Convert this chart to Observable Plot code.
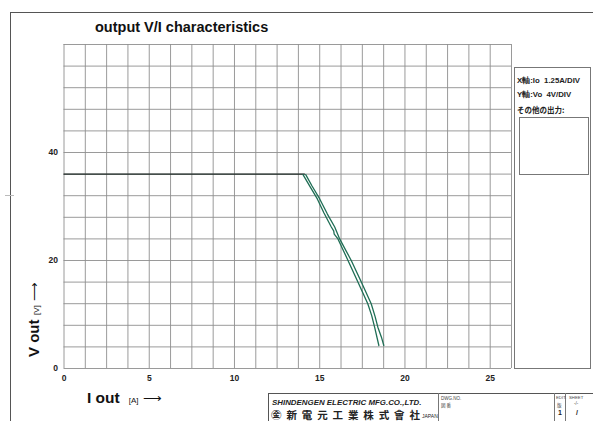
<!DOCTYPE html>
<html>
<head>
<meta charset="utf-8">
<script src="https://cdn.jsdelivr.net/npm/d3@7"></script>
<script src="https://cdn.jsdelivr.net/npm/@observablehq/plot@0.6"></script>
<style>
  html, body { margin: 0; padding: 0; background: #fff; }
  #wrap { position: relative; width: 593px; height: 421px; overflow: hidden; font-family: "Liberation Sans", Arial, sans-serif; }
  #wrap svg { position: absolute; left: 0; top: 0; }
  .abs { position: absolute; white-space: pre; }
  .box { position: absolute; box-sizing: border-box; }
  g[aria-label="x-axis tick label"] text, g[aria-label="y-axis tick label"] text { font-weight: bold; }
</style>
</head>
<body>
<div id="wrap"></div>
<script>
// ---- data ----
const xTicks = [0, 5, 10, 15, 20, 25];
const yTicks = [0, 20, 40];
const xGrid = d3.range(0, 26.26, 1.25);   // 1.25 A / DIV
const yGrid = d3.range(0, 60.1, 4);       // 4 V / DIV

const flatI = [0, 14.1];
const flatV = [36, 36];

const curveA_I = [14.02, 14.45, 14.86, 15.25, 15.68, 15.82, 15.85, 16.07, 16.66, 17.24, 17.82, 18.05, 18.22, 18.47];
const curveA_V = [35.9, 33.6, 31.4, 28.8, 26.2, 25.5, 24.9, 24.0, 20.0, 16.0, 12.0, 9.8, 7.65, 4.26];
const curveB_I = [14.18, 14.55, 15.0, 15.45, 15.88, 16.17, 16.85, 17.44, 18.02, 18.25, 18.41, 18.62, 18.76];
const curveB_V = [35.9, 33.8, 31.4, 28.6, 26.2, 24.0, 20.0, 16.0, 12.0, 9.6, 7.65, 5.8, 4.26];

const flat = flatI.map((d, i) => ({I: d, V: flatV[i]}));
const curves = [
  ...curveA_I.map((d, i) => ({I: d, V: curveA_V[i], s: "A"})),
  ...curveB_I.map((d, i) => ({I: d, V: curveB_V[i], s: "B"}))
];

const gridColor = "#8e8e8e";

const chart = Plot.plot({
  width: 593,
  height: 421,
  marginLeft: 63.5,
  marginRight: 82,
  marginTop: 44,
  marginBottom: 53,
  style: { fontFamily: "Liberation Sans, Arial, sans-serif", fontSize: "8.5px", background: "transparent", color: "#222" },
  x: { domain: [0, 26.25] },
  y: { domain: [0, 60] },
  marks: [
    Plot.gridX(xGrid, { stroke: gridColor, strokeOpacity: 1, strokeWidth: 0.9 }),
    Plot.gridY(yGrid, { stroke: gridColor, strokeOpacity: 1, strokeWidth: 0.9 }),
    Plot.axisX({ ticks: xTicks, tickSize: 0, tickPadding: 6, label: null, fontWeight: "bold" }),
    Plot.axisY({ ticks: yTicks, tickSize: 0, tickPadding: 6, label: null, fontWeight: "bold" }),
    Plot.line(flat, { x: "I", y: "V", stroke: "#1c2824", strokeWidth: 1.4 }),
    Plot.line(curves, { x: "I", y: "V", z: "s", stroke: "#1f6e55", strokeWidth: 1.3 })
  ]
});

const wrap = document.getElementById("wrap");
wrap.appendChild(chart);

function addText(txt, css) {
  const d = document.createElement("div");
  d.className = "abs";
  d.textContent = txt;
  Object.assign(d.style, css);
  wrap.appendChild(d);
  return d;
}
function addBox(css) {
  const d = document.createElement("div");
  d.className = "box";
  Object.assign(d.style, css);
  wrap.appendChild(d);
  return d;
}

// page frame
addBox({ left: "10px", top: "12px", width: "600px", height: "420px", borderLeft: "1.2px solid #555", borderTop: "1.2px solid #555" });
addBox({ left: "5px", top: "195px", width: "9px", height: "0px", borderTop: "1px solid #bbb" });

// title
addText("output V/I characteristics", { left: "95px", top: "19px", fontSize: "14.5px", fontWeight: "bold", color: "#111", lineHeight: "17px" });

// y label (rotated)
const yl = document.createElement("div");
yl.className = "abs";
yl.innerHTML = '<span style="font-size:15px;font-weight:bold">V out</span> <span style="font-size:8px">[V]</span> <span style="font-size:13px">⟶</span>';
Object.assign(yl.style, { left: "25px", top: "357px", lineHeight: "17px", transformOrigin: "0 0", transform: "rotate(-90deg)", color: "#111" });
wrap.appendChild(yl);

// x label
const xl = document.createElement("div");
xl.className = "abs";
xl.innerHTML = '<span style="font-size:15.5px;font-weight:bold">I out</span><span style="font-size:8px;margin-left:9px">[A]</span><span style="font-size:13px;margin-left:4px">⟶</span>';
Object.assign(xl.style, { left: "87px", top: "389px", lineHeight: "18px", color: "#111" });
wrap.appendChild(xl);

// right info box
addBox({ left: "514px", top: "67px", width: "77px", height: "302px", border: "1px solid #777" });
addText("X軸:Io  1.25A/DIV", { left: "517px", top: "75px", fontSize: "7.8px", fontWeight: "bold", color: "#222" });
addText("Y軸:Vo  4V/DIV", { left: "517px", top: "89px", fontSize: "7.8px", fontWeight: "bold", color: "#222" });
addText("その他の出力:", { left: "517px", top: "104px", fontSize: "7.5px", fontWeight: "bold", color: "#222", fontFamily: "Noto Sans CJK JP, sans-serif" });
addBox({ left: "519px", top: "117px", width: "70px", height: "58px", border: "1px solid #777" });

// bottom title block
addBox({ left: "268px", top: "393px", width: "330px", height: "40px", borderLeft: "1px solid #555", borderTop: "1px solid #555" });
addBox({ left: "438px", top: "393px", width: "0px", height: "30px", borderLeft: "1px solid #777" });
addBox({ left: "554px", top: "393px", width: "0px", height: "30px", borderLeft: "1px solid #777" });
addBox({ left: "565px", top: "393px", width: "0px", height: "30px", borderLeft: "1px solid #777" });
addText("SHINDENGEN ELECTRIC MFG.CO.,LTD.", { left: "272px", top: "398px", fontSize: "7.9px", fontStyle: "italic", fontWeight: "bold", color: "#222" });
const jp = document.createElement("div");
jp.className = "abs";
Object.assign(jp.style, { left: "271px", top: "408px", width: "149px", display: "flex", justifyContent: "space-between", fontSize: "10.5px", fontWeight: "bold", color: "#222", fontFamily: "Noto Sans CJK JP, sans-serif", lineHeight: "13px" });
for (const ch of "㊎新電元工業株式會社") { const s = document.createElement("span"); s.textContent = ch; jp.appendChild(s); }
wrap.appendChild(jp);
addText("JAPAN", { left: "422px", top: "413px", fontSize: "5px", color: "#222" });
addText("DWG.NO.", { left: "441px", top: "396px", fontSize: "4.5px", color: "#444" });
addText("図 番", { left: "441px", top: "402px", fontSize: "4.5px", color: "#444", fontFamily: "Noto Sans CJK JP, sans-serif" });
addText("EDIT.", { left: "556px", top: "395px", fontSize: "4.3px", color: "#444" });
addText("版", { left: "557px", top: "402px", fontSize: "4.5px", color: "#444", fontFamily: "Noto Sans CJK JP, sans-serif" });
addText("1", { left: "558px", top: "409px", fontSize: "7px", fontWeight: "bold", color: "#222" });
addText("SHEET", { left: "569px", top: "395px", fontSize: "4.3px", color: "#444" });
addText("-/-", { left: "574px", top: "401px", fontSize: "4.5px", color: "#444" });
addText("/", { left: "576px", top: "409px", fontSize: "7px", fontWeight: "bold", color: "#222" });
</script>
</body>
</html>
